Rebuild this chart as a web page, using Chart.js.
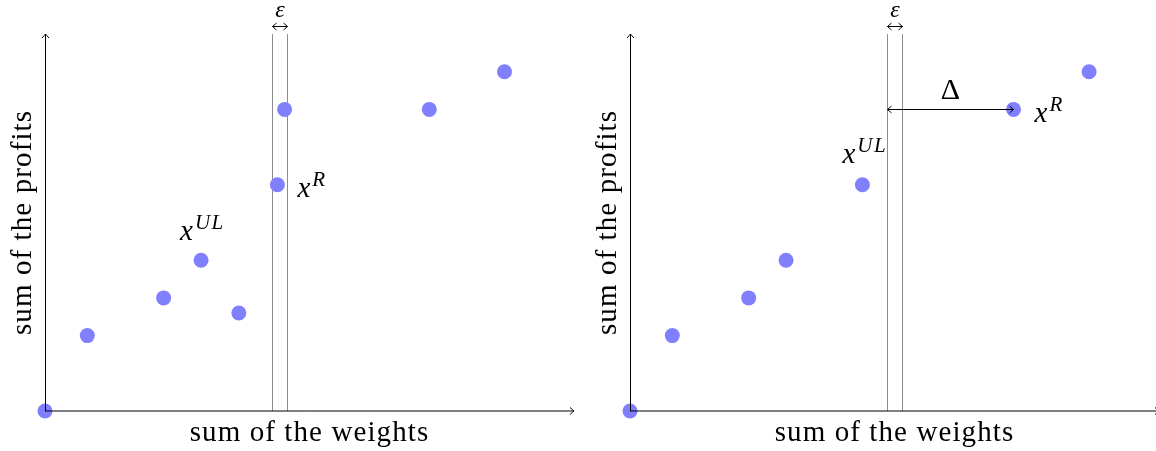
<!DOCTYPE html>
<html>
<head>
<meta charset="utf-8">
<script src="https://cdn.jsdelivr.net/npm/chart.js@4"></script>
<style>
  html, body { margin: 0; padding: 0; background: #fff; overflow: hidden; }
  #wrap { position: relative; width: 1156px; height: 451px; overflow: hidden; }
  .panel { position: absolute; top: 0; width: 585px; height: 451px; }
</style>
</head>
<body>
<div id="wrap">
  <div class="panel" style="left:0"><canvas id="left" width="585" height="451"></canvas></div>
  <div class="panel" style="left:585px"><canvas id="right" width="585" height="451"></canvas></div>
</div>
<script>
// axis titles
const xTitle = 'sum of the weights';
const yTitle = 'sum of the profits';

// left panel: solutions (weight, profit)
const leftWeights = [0, 1.12, 3.14, 4.13, 5.13, 6.15, 6.34, 10.17, 12.16];
const leftProfits = [0, 2, 3, 4, 2.6, 6, 8, 8, 9];
const leftEps = [6.0, 6.4];

// right panel
const rightWeights = [0, 1.12, 3.14, 4.13, 6.15, 10.15, 12.15];
const rightProfits = [0, 2, 3, 4, 6, 8, 9];
const rightEps = [6.8, 7.2];

const pointColor = 'rgb(128,128,255)';
const serif = '"Liberation Serif", "Times New Roman", serif';

function toPoints(xs, ys) {
    return xs.map((x, i) => ({x: x, y: ys[i]}));
}

// small TikZ-like arrow tip
function arrowHead(ctx, x, y, ang) {
    const len = 4, half = 3.5;
    ctx.save();
    ctx.translate(x, y);
    ctx.rotate(ang);
    ctx.beginPath();
    ctx.moveTo(-len, -half);
    ctx.quadraticCurveTo(-1, -0.8, 0, 0);
    ctx.quadraticCurveTo(-1, 0.8, -len, half);
    ctx.stroke();
    ctx.restore();
}

function mathLabel(ctx, x, y, base, sup) {
    ctx.textAlign = 'left';
    ctx.textBaseline = 'alphabetic';
    ctx.font = 'italic 29px ' + serif;
    ctx.fillText(base, x, y);
    const w = ctx.measureText(base).width;
    ctx.font = 'italic 21px ' + serif;
    ctx.letterSpacing = '1.5px';
    ctx.fillText(sup, x + w + 2, y - 11);
    ctx.letterSpacing = '0px';
}

const figurePlugin = {
    id: 'figure',
    beforeDraw(chart) {
        // CM text runs wider than Liberation Serif
        chart.ctx.letterSpacing = '1.1px';
    },
    beforeDatasetsDraw(chart, args, opts) {
        const {ctx, chartArea: a, scales: {x, y}} = chart;
        ctx.save();
        ctx.strokeStyle = '#8c8c8c';
        ctx.lineWidth = 1;
        opts.eps.forEach(v => {
            const px = Math.round(x.getPixelForValue(v)) + 0.5;
            ctx.beginPath();
            ctx.moveTo(px, y.getPixelForValue(0));
            ctx.lineTo(px, a.top);
            ctx.stroke();
        });
        ctx.restore();
    },
    afterDatasetsDraw(chart, args, opts) {
        const {ctx, chartArea: a, scales: {x, y}} = chart;
        const x0 = x.getPixelForValue(0), y0 = y.getPixelForValue(0);
        ctx.save();
        ctx.letterSpacing = '0px';
        ctx.strokeStyle = '#000';
        ctx.fillStyle = '#000';
        ctx.lineWidth = 1;

        // axes
        ctx.beginPath();
        ctx.moveTo(x0 + 0.5, y0);
        ctx.lineTo(x0 + 0.5, a.top);
        ctx.stroke();
        arrowHead(ctx, x0 + 0.5, a.top, -Math.PI / 2);
        ctx.beginPath();
        ctx.moveTo(x0, y0);
        ctx.lineTo(a.right, y0);
        ctx.stroke();
        arrowHead(ctx, a.right, y0, 0);

        // epsilon
        const e1 = Math.round(x.getPixelForValue(opts.eps[0])) + 0.5;
        const e2 = Math.round(x.getPixelForValue(opts.eps[1])) + 0.5;
        const ey = a.top - 7.5;
        ctx.beginPath();
        ctx.moveTo(e1, ey);
        ctx.lineTo(e2, ey);
        ctx.stroke();
        arrowHead(ctx, e1, ey, Math.PI);
        arrowHead(ctx, e2, ey, 0);
        ctx.font = 'italic 24px ' + serif;
        ctx.textAlign = 'center';
        ctx.textBaseline = 'alphabetic';
        ctx.fillText('ε', (e1 + e2) / 2, a.top - 17);

        // point labels
        opts.labels.forEach(l => {
            const px = x.getPixelForValue(l.at[0]);
            const py = y.getPixelForValue(l.at[1]);
            mathLabel(ctx, px + l.dx, py + l.dy, 'x', l.sup);
        });

        // delta arrow
        if (opts.delta) {
            const d = opts.delta;
            const xa = Math.round(x.getPixelForValue(d.from)) + 0.5;
            const xb = x.getPixelForValue(d.to);
            const py = Math.round(y.getPixelForValue(d.y)) + 0.5;
            ctx.beginPath();
            ctx.moveTo(xa, py);
            ctx.lineTo(xb, py);
            ctx.stroke();
            arrowHead(ctx, xa, py, Math.PI);
            arrowHead(ctx, xb, py, 0);
            ctx.font = '30px ' + serif;
            ctx.textAlign = 'center';
            ctx.fillText('Δ', (xa + xb) / 2, py - 11);
        }
        ctx.restore();
    }
};

function makeChart(id, xs, ys, fig) {
    return new Chart(document.getElementById(id), {
        type: 'scatter',
        data: {
            datasets: [{
                data: toPoints(xs, ys),
                backgroundColor: pointColor,
                borderWidth: 0,
                pointRadius: 7.5,
                pointHoverRadius: 7.5,
                clip: false
            }]
        },
        options: {
            responsive: false,
            animation: false,
            devicePixelRatio: 1,
            events: [],
            layout: { padding: { top: 34, right: 11, left: 0, bottom: 0 } },
            plugins: {
                legend: { display: false },
                tooltip: { enabled: false },
                figure: fig
            },
            scales: {
                x: {
                    type: 'linear', min: 0, max: 14,
                    grid: { display: false }, border: { display: false },
                    ticks: { display: false },
                    title: { display: true, text: xTitle, color: '#000',
                             font: { family: serif, size: 29, lineHeight: 1 }, padding: { top: 0, bottom: 3 } },
                    afterFit: s => { s.height = 40; }
                },
                y: {
                    type: 'linear', min: 0, max: 10,
                    grid: { display: false }, border: { display: false },
                    ticks: { display: false },
                    title: { display: true, text: yTitle, color: '#000',
                             font: { family: serif, size: 29 }, padding: { top: 6, bottom: 0 } },
                    afterFit: s => { s.width = 45; }
                }
            }
        },
        plugins: [figurePlugin]
    });
}

makeChart('left', leftWeights, leftProfits, {
    eps: leftEps,
    labels: [
        { at: [leftWeights[5], leftProfits[5]], dx: 20, dy: 12, sup: 'R' },
        { at: [leftWeights[3], leftProfits[3]], dx: -21, dy: -20, sup: 'UL' }
    ]
});

makeChart('right', rightWeights, rightProfits, {
    eps: rightEps,
    labels: [
        { at: [rightWeights[4], rightProfits[4]], dx: -20, dy: -22, sup: 'UL' },
        { at: [rightWeights[5], rightProfits[5]], dx: 21, dy: 13, sup: 'R' }
    ],
    delta: { from: rightEps[0], to: rightWeights[5], y: rightProfits[5] }
});
</script>
</body>
</html>
